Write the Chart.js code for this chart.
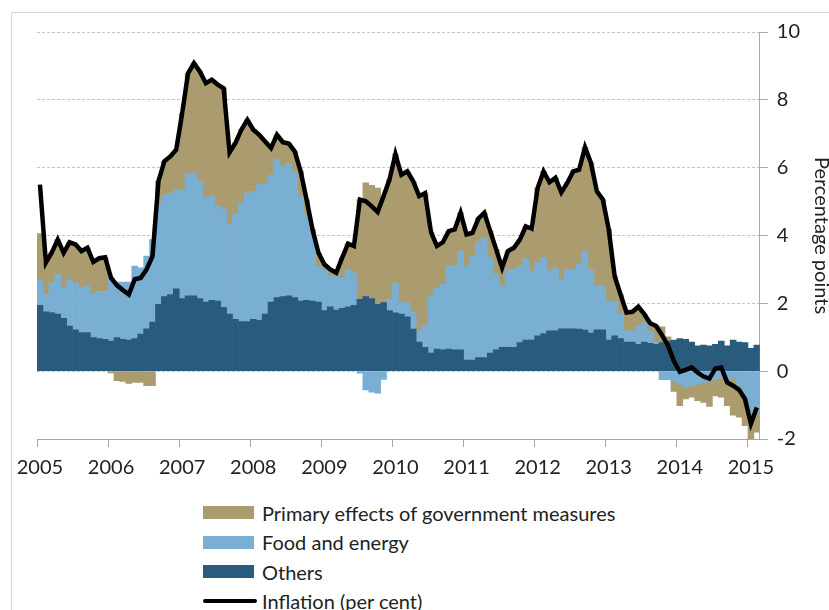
<!DOCTYPE html>
<html>
<head>
<meta charset="utf-8">
<script src="https://cdn.jsdelivr.net/npm/chart.js@4/dist/chart.umd.min.js"></script>
<style>
  html, body { margin: 0; padding: 0; background: #fff; }
  #wrap { position: relative; width: 829px; height: 610px; overflow: hidden; font-family: Lato, sans-serif; }
  #frame { position: absolute; left: 11px; top: 12px; right: -2px; bottom: -2px; border-left: 1px solid #d9d9d9; border-top: 1px solid #d9d9d9; }
  #chart { position: absolute; left: 0; top: 0; }
  #legend { position: absolute; left: 203px; top: 498px; }
  .item { display: flex; align-items: center; height: 29.5px; font-size: 20px; color: #222; }
  .sw { width: 51px; height: 13px; margin-right: 8px; }
  .ln { width: 54px; height: 4px; margin-right: 5px; background: #000; border-radius: 2px; }
</style>
</head>
<body>
<div id="wrap">
  <div id="frame"></div>
  <canvas id="chart" width="829" height="490"></canvas>
  <div id="legend"></div>
</div>
<script>
// monthly, Jan 2005 .. Feb 2015
const years = ["2005", "2006", "2007", "2008", "2009", "2010", "2011", "2012", "2013", "2014", "2015"];
const months = years.flatMap((y) => Array.from({ length: 12 }, (_, m) => y + "-" + String(m + 1).padStart(2, "0"))).slice(0, 122);

const others = [
  1.94, 1.75, 1.73, 1.68, 1.56, 1.33, 1.22, 1.14, 1.14, 0.99, 0.96, 0.94,
  0.89, 0.99, 0.94, 0.92, 0.96, 1.09, 1.25, 1.45, 1.97, 2.20, 2.26, 2.43,
  2.14, 2.22, 2.22, 2.14, 2.04, 2.09, 2.07, 1.88, 1.68, 1.53, 1.46, 1.46,
  1.53, 1.50, 1.68, 2.04, 2.17, 2.20, 2.22, 2.17, 2.07, 2.09, 2.07, 2.04,
  1.79, 1.90, 1.80, 1.85, 1.90, 1.94, 2.12, 2.20, 2.14, 1.97, 2.02, 1.79,
  1.72, 1.68, 1.60, 1.24, 0.86, 0.70, 0.53, 0.65, 0.63, 0.65, 0.63, 0.63,
  0.33, 0.33, 0.40, 0.40, 0.53, 0.63, 0.70, 0.70, 0.70, 0.84, 0.92, 0.92,
  1.04, 1.11, 1.19, 1.19, 1.25, 1.25, 1.25, 1.24, 1.21, 1.12, 1.22, 1.22,
  0.92, 1.04, 0.96, 0.86, 0.86, 0.79, 0.86, 0.82, 0.79, 0.84, 0.89, 0.92,
  0.96, 0.94, 0.86, 0.75, 0.77, 0.75, 0.79, 0.89, 0.75, 0.92, 0.86, 0.84,
  0.67, 0.77
];

const foodEnergy = [
  0.72, 0.51, 0.87, 1.17, 0.90, 1.37, 1.38, 1.32, 1.36, 1.27, 1.39, 1.41,
  1.86, 1.64, 1.69, 1.71, 2.14, 1.96, 2.14, 2.43, 2.98, 3.00, 2.99, 2.92,
  3.21, 3.62, 3.62, 3.46, 3.06, 3.07, 2.79, 2.90, 2.64, 3.09, 3.50, 3.79,
  3.77, 4.00, 3.85, 3.75, 4.08, 3.84, 3.90, 3.72, 3.09, 2.53, 2.01, 1.06,
  1.19, 0.90, 1.00, 0.90, 1.10, 0.96, -0.06, -0.55, -0.62, -0.65, -0.24, 0.33,
  0.88, 0.34, 0.42, 0.49, 0.32, 0.64, 1.69, 1.81, 1.93, 2.45, 2.47, 2.91,
  2.77, 3.06, 3.43, 3.53, 2.81, 2.22, 1.81, 2.30, 2.30, 2.28, 2.39, 2.03,
  2.16, 2.23, 1.76, 1.86, 1.46, 1.75, 1.75, 1.91, 2.33, 1.88, 1.29, 1.29,
  1.15, 1.03, 0.72, 0.33, 0.33, 0.54, 0.57, 0.37, 0.07, -0.25, -0.25, -0.30,
  -0.38, -0.48, -0.43, -0.38, -0.33, -0.28, -0.24, -0.19, -0.33, -0.20, -0.43, -0.82,
  -1.35, -1.20
];

const govMeasures = [
  1.40, 0.94, 0.90, 1.03, 1.03, 1.10, 1.14, 1.08, 1.14, 0.96, 0.98, 1.01,
  -0.05, -0.28, -0.30, -0.36, -0.33, -0.33, -0.43, -0.43, 0.65, 0.99, 1.08, 1.18,
  2.25, 2.94, 3.24, 3.23, 3.39, 3.43, 3.59, 3.56, 2.13, 2.11, 2.16, 2.16,
  1.82, 1.47, 1.24, 0.79, 0.72, 0.71, 0.59, 0.59, 0.73, 0.44, 0.10, 0.39,
  0.17, 0.20, 0.10, 0.59, 0.76, 0.79, 2.94, 3.35, 3.34, 3.43, 3.14, 3.53,
  3.80, 3.77, 3.87, 3.87, 3.98, 3.91, 1.88, 1.23, 1.24, 1.03, 1.08, 1.13,
  0.93, 0.69, 0.67, 0.74, 0.79, 0.74, 0.54, 0.54, 0.64, 0.76, 0.96, 1.18,
  2.20, 2.55, 2.62, 2.65, 2.56, 2.55, 2.89, 2.79, 3.06, 3.14, 2.79, 2.55,
  2.11, 0.73, 0.58, 0.54, 0.56, 0.57, 0.25, 0.22, 0.47, 0.47, 0.12, -0.30,
  -0.64, -0.34, -0.34, -0.49, -0.59, -0.76, -0.49, -0.58, -0.69, -1.10, -0.93, -0.79,
  -0.75, -0.60
];

const inflation = [
  5.50, 3.20, 3.50, 3.88, 3.49, 3.80, 3.74, 3.54, 3.64, 3.22, 3.33, 3.36,
  2.75, 2.53, 2.39, 2.26, 2.71, 2.75, 3.00, 3.39, 5.60, 6.19, 6.33, 6.53,
  7.60, 8.78, 9.08, 8.83, 8.49, 8.59, 8.45, 8.34, 6.45, 6.73, 7.12, 7.41,
  7.12, 6.97, 6.77, 6.58, 6.97, 6.75, 6.71, 6.48, 5.89, 5.06, 4.18, 3.49,
  3.15, 3.00, 2.90, 3.34, 3.76, 3.69, 5.06, 5.01, 4.86, 4.69, 5.16, 5.65,
  6.40, 5.79, 5.89, 5.60, 5.16, 5.25, 4.10, 3.69, 3.80, 4.13, 4.18, 4.67,
  4.03, 4.08, 4.50, 4.67, 4.13, 3.59, 3.05, 3.54, 3.64, 3.88, 4.27, 4.20,
  5.40, 5.89, 5.57, 5.70, 5.27, 5.55, 5.89, 5.94, 6.60, 6.14, 5.30, 5.06,
  4.18, 2.80, 2.26, 1.73, 1.75, 1.90, 1.68, 1.41, 1.33, 1.06, 0.76, 0.30,
  -0.02, 0.04, 0.11, -0.04, -0.16, -0.22, 0.08, 0.11, -0.33, -0.43, -0.55, -0.82,
  -1.55, -1.07
];

const yTicks = [-2, 0, 2, 4, 6, 8, 10];

const colors = { gov: "#aa9c6e", food: "#7aafd4", others: "#295b7d", line: "#000000" };

Chart.defaults.font.family = "Lato, sans-serif";
Chart.defaults.font.size = 20;
Chart.defaults.color = "#222";

const chart = new Chart(document.getElementById("chart"), {
  data: {
    labels: months,
    datasets: [
      { type: "line", label: "Inflation (per cent)", data: inflation, borderColor: colors.line, borderWidth: 4.5, pointRadius: 0, tension: 0, order: 0 },
      { type: "bar", label: "Others", data: others, backgroundColor: colors.others, order: 1 },
      { type: "bar", label: "Food and energy", data: foodEnergy, backgroundColor: colors.food, order: 1 },
      { type: "bar", label: "Primary effects of government measures", data: govMeasures, backgroundColor: colors.gov, order: 1 },
    ],
  },
  options: {
    responsive: false,
    animation: false,
    layout: { padding: { left: 37, top: 32, right: -4, bottom: 1 } },
    datasets: { bar: { barPercentage: 1, categoryPercentage: 1, stack: "s" } },
    plugins: { legend: { display: false }, tooltip: { enabled: false } },
    scales: {
      x: {
        stacked: true,
        grid: {
          drawOnChartArea: false,
          tickLength: 8,
          color: (c) => (c.index % 12 === 0 ? "#a6a6a6" : "rgba(0,0,0,0)"),
        },
        border: { color: "#a6a6a6" },
        ticks: {
          autoSkip: false,
          maxRotation: 0,
          padding: 9,
          callback: (v, i) => (i % 12 === 0 ? months[i].slice(0, 4) : ""),
        },
      },
      y: {
        position: "right",
        stacked: true,
        min: -2,
        max: 10,
        afterBuildTicks: (axis) => { axis.ticks = yTicks.map((v) => ({ value: v })); },
        grid: { color: "#c4c4c4", tickBorderDash: [], tickColor: "#a6a6a6", tickLength: 8 },
        border: { color: "#a6a6a6", dash: [3, 2] },
        ticks: { padding: 9 },
        title: { display: true, text: "Percentage points", padding: { top: 0, bottom: 0 } },
      },
    },
  },
});

// legend in the reference's order, stacked vertically under the plot
const legendOrder = ["Primary effects of government measures", "Food and energy", "Others", "Inflation (per cent)"];
const legend = document.getElementById("legend");
legendOrder.forEach((name) => {
  const ds = chart.data.datasets.find((d) => d.label === name);
  const row = document.createElement("div");
  row.className = "item";
  const sw = document.createElement("span");
  if (ds.type === "line") {
    sw.className = "ln";
  } else {
    sw.className = "sw";
    sw.style.background = ds.backgroundColor;
  }
  row.appendChild(sw);
  row.appendChild(document.createTextNode(name));
  legend.appendChild(row);
});
</script>
</body>
</html>
